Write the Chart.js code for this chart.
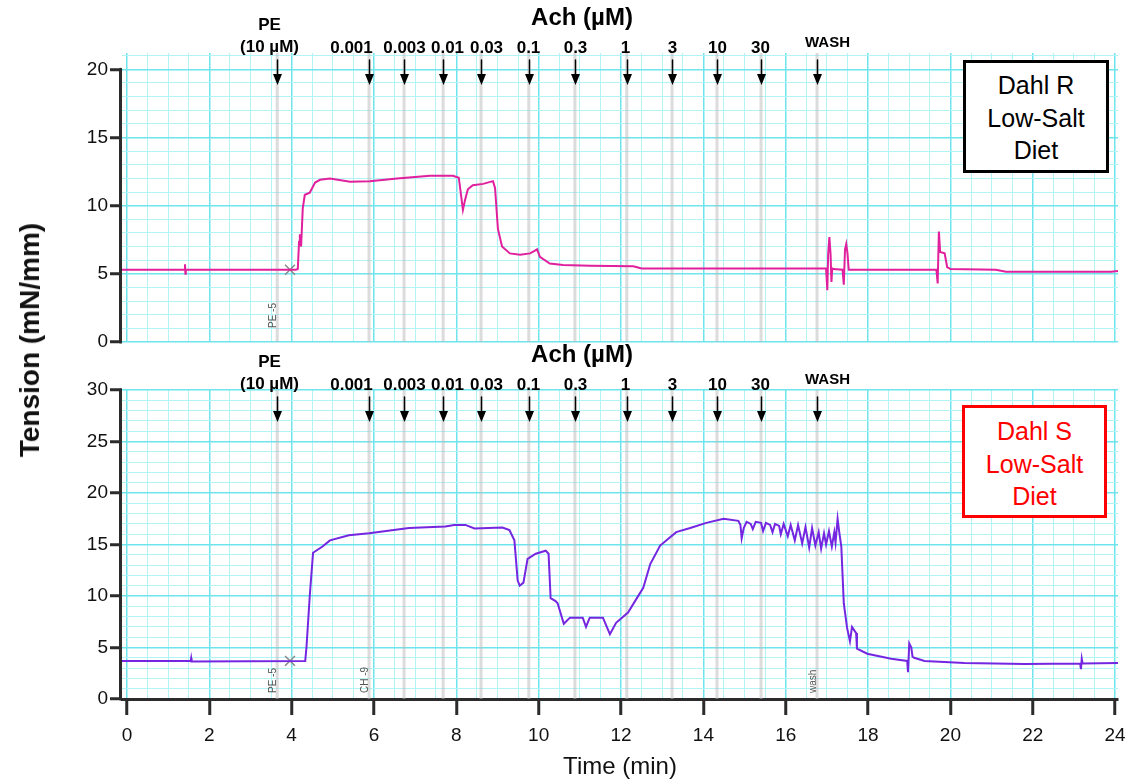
<!DOCTYPE html>
<html>
<head>
<meta charset="utf-8">
<script src="https://cdn.jsdelivr.net/npm/chart.js@4.4.1/dist/chart.umd.min.js"></script>
<style>
  body { margin: 0; background: #fff; }
  #wrap { position: relative; width: 1135px; height: 784px; overflow: hidden;
          font-family: "Liberation Sans", Arial, sans-serif; }
  canvas { position: absolute; left: 0; }
  #cR { top: 0; }
  #cS { top: 320px; }
  .box { position: absolute; box-sizing: border-box; border: 3px solid #000; background: #fff;
         text-align: center; font-size: 25px; line-height: 32.5px; }
  #boxR { left: 963px; top: 60px; width: 146px; height: 113px; padding-top: 6px; }
  #boxS { left: 962px; top: 405px; width: 145px; height: 113px; padding-top: 7px;
          border-color: #f00; color: #f00; }
  #ytitle { position: absolute; left: 30px; top: 340px; transform: translate(-50%, -50%) rotate(-90deg);
            white-space: nowrap; font-weight: bold; font-size: 28px; color: #111; }
</style>
</head>
<body>
<div id="wrap">
  <canvas id="cR" width="1135" height="362"></canvas>
  <canvas id="cS" width="1135" height="464"></canvas>
  <div class="box" id="boxR">Dahl R<br>Low-Salt<br>Diet</div>
  <div class="box" id="boxS">Dahl S<br>Low-Salt<br>Diet</div>
  <div id="ytitle">Tension (mN/mm)</div>
</div>
<script>
// drug additions (min) and their labels
const eventTimes = [3.65, 5.88, 6.73, 7.68, 8.60, 9.76, 10.88, 12.14, 13.24, 14.33, 15.40, 16.76];
const eventLabels = ["PE\n(10 µM)", "0.001", "0.003", "0.01", "0.03", "0.1", "0.3", "1", "3", "10", "30", "WASH"];
const commentR = ["PE -5", "", "", "", "", "", "", "", "", "", "", ""];
const commentS = ["PE -5", "CH -9", "", "", "", "", "", "", "", "", "", "wash"];

// Dahl R trace (top)
const timeR = [-0.12, 1.40, 1.41, 1.42, 1.43, 4.10, 4.15, 4.18, 4.20, 4.23, 4.27, 4.32, 4.44, 4.57, 4.69, 4.93,
  5.42, 5.90, 6.56, 7.36, 7.92, 8.06, 8.16, 8.21, 8.28, 8.40, 8.65, 8.89, 8.94, 9.01, 9.11, 9.30, 9.55, 9.79,
  9.91, 9.96, 10.03, 10.27, 10.59, 11.25, 12.30, 12.50, 16.98, 17.01, 17.03, 17.06, 17.09, 17.11, 17.13, 17.16,
  17.38, 17.41, 17.44, 17.47, 17.50, 17.53, 19.66, 19.69, 19.72, 19.75, 19.86, 19.92, 20.00, 21.10, 21.35, 23.90, 24.07];
const tensionR = [5.3, 5.3, 5.7, 5.0, 5.3, 5.3, 5.35, 7.35, 7.9, 7.0, 9.8, 10.8, 10.95, 11.7, 11.9, 12.0,
  11.75, 11.8, 12.0, 12.2, 12.2, 12.05, 9.7, 10.4, 11.2, 11.5, 11.6, 11.8, 11.3, 8.3, 7.0, 6.5, 6.4, 6.5,
  6.7, 6.8, 6.25, 5.75, 5.65, 5.6, 5.55, 5.4, 5.4, 3.8, 6.4, 7.7, 6.4, 4.4, 5.4, 5.35,
  5.3, 4.2, 6.8, 7.2, 6.5, 5.3, 5.3, 4.3, 8.1, 6.6, 6.5, 5.5, 5.35, 5.3, 5.15, 5.15, 5.2];

// Dahl S trace (bottom)
const timeS = [-0.12, 1.55, 1.56, 1.57, 4.33, 4.36, 4.44, 4.52, 4.75, 4.93,
  5.39, 5.88, 6.85, 7.73, 7.95, 8.22, 8.44, 9.12, 9.29, 9.41,
  9.49, 9.54, 9.63, 9.73, 9.93, 10.17, 10.24, 10.29, 10.41, 10.46,
  10.61, 10.76, 11.07, 11.15, 11.24, 11.56, 11.73, 11.88, 12.17, 12.34,
  12.54, 12.71, 12.95, 13.34, 13.68, 14.07, 14.49, 14.85, 14.90, 14.93,
  14.98, 15.05, 15.15, 15.20, 15.27, 15.40, 15.45, 15.52, 15.62, 15.68,
  15.74, 15.84, 15.88, 15.95, 16.05, 16.12, 16.22, 16.30, 16.40, 16.48,
  16.57, 16.64, 16.72, 16.80, 16.86, 16.93, 16.98, 17.05, 17.12, 17.18,
  17.21, 17.26, 17.30, 17.35, 17.41, 17.49, 17.56, 17.61, 17.71, 17.73,
  17.98, 18.56, 18.95, 18.97, 19.00, 19.05, 19.08, 19.12, 19.37, 20.34,
  21.80, 23.15, 23.17, 23.19, 23.21, 24.07];
const tensionS = [3.7, 3.7, 3.95, 3.65, 3.7, 5.0, 10.0, 14.2, 14.8, 15.4,
  15.9, 16.1, 16.6, 16.75, 16.9, 16.9, 16.55, 16.65, 16.4, 15.4,
  11.5, 11.0, 11.3, 13.6, 14.1, 14.4, 14.1, 9.8, 9.5, 9.3,
  7.3, 7.9, 7.9, 7.0, 7.9, 7.9, 6.3, 7.4, 8.4, 9.5,
  10.8, 13.1, 14.9, 16.2, 16.6, 17.1, 17.5, 17.3, 16.9, 15.6,
  16.6, 17.2, 17.0, 16.5, 17.2, 17.1, 16.3, 17.1, 16.9, 16.2,
  17.0, 16.8, 16.0, 17.0, 15.8, 16.9, 15.4, 16.9, 15.1, 16.7,
  14.7, 16.6, 14.9, 16.2, 14.6, 16.1, 15.0, 16.3, 14.8, 16.2,
  15.2, 17.5, 16.2, 14.8, 9.3, 6.9, 5.6, 7.0, 6.4, 4.9,
  4.4, 3.9, 3.7, 2.6, 5.4, 5.0, 4.1, 4.0, 3.7, 3.5,
  3.4, 3.45, 2.9, 3.9, 3.45, 3.5];

// "x" comment markers
const markTime = [3.96];
const markR = [5.3];
const markS = [3.7];

const FONT = '"Liberation Sans", Arial, sans-serif';
Chart.defaults.font.family = FONT;
const MINOR = "#b2f3f5";
const MAJOR = "#6fe4ec";
const AXIS = "#2b2b2b";
const labelShift = [-8, -18, 0, 4, 5, -1, 0, -2, 0, 0, -1, 10];

function decor(comments, topTick, commentGap) {
  return {
    id: "decor",
    beforeDatasetsDraw(chart) {
      const { ctx, chartArea: a, scales: { x } } = chart;
      ctx.save();
      ctx.strokeStyle = "rgba(185,185,185,0.5)";
      ctx.lineWidth = 3;
      eventTimes.forEach(t => {
        const px = x.getPixelForValue(t);
        ctx.beginPath();
        ctx.moveTo(px, a.top);
        ctx.lineTo(px, a.bottom);
        ctx.stroke();
      });
      // LabChart comment tags
      ctx.fillStyle = "#555";
      ctx.font = "10px " + FONT;
      comments.forEach((c, i) => {
        if (!c) return;
        const px = x.getPixelForValue(eventTimes[i]) - 5;
        ctx.save();
        ctx.translate(px + 4, a.bottom - commentGap);
        ctx.rotate(-Math.PI / 2);
        ctx.fillText(c, 0, 0);
        ctx.restore();
      });
      ctx.restore();
    },
    afterDraw(chart) {
      const { ctx, chartArea: a, scales: { x, y } } = chart;
      ctx.save();
      // y axis bracket
      ctx.strokeStyle = AXIS;
      ctx.lineWidth = 3;
      ctx.lineCap = "round";
      ctx.beginPath();
      ctx.moveTo(a.left - 1.5, y.getPixelForValue(topTick));
      ctx.lineTo(a.left - 1.5, y.getPixelForValue(0));
      ctx.stroke();
      // arrows + labels
      ctx.fillStyle = "#000";
      ctx.strokeStyle = "#000";
      ctx.lineWidth = 1.5;
      ctx.textAlign = "center";
      ctx.textBaseline = "middle";
      eventTimes.forEach((t, i) => {
        const px = Math.round(x.getPixelForValue(t)) + 0.5;
        ctx.beginPath();
        ctx.moveTo(px, a.top + 7);
        ctx.lineTo(px, a.top + 24);
        ctx.stroke();
        ctx.beginPath();
        ctx.moveTo(px - 4.5, a.top + 21);
        ctx.lineTo(px + 4.5, a.top + 21);
        ctx.lineTo(px, a.top + 32);
        ctx.closePath();
        ctx.fill();
        const lines = eventLabels[i].split("\n");
        const lx = px + labelShift[i];
        if (lines.length > 1) {
          ctx.font = "bold 17px " + FONT;
          ctx.fillText(lines[0], lx, a.top - 28);
          ctx.fillText(lines[1], lx, a.top - 6);
        } else if (lines[0] === "WASH") {
          ctx.font = "bold 15px " + FONT;
          ctx.fillText(lines[0], lx, a.top - 10);
        } else {
          ctx.font = "bold 17px " + FONT;
          ctx.fillText(lines[0], lx, a.top - 5);
        }
      });
      ctx.font = "bold 24px " + FONT;
      ctx.fillText("Ach (µM)", 582, a.top - 35);
      ctx.restore();
    }
  };
}

function pts(xs, ys) {
  return xs.map((t, i) => ({ x: t, y: ys[i] }));
}

function makeChart(id, xs, ys, marks, color, yMax, topTick, bottomPanel, comments) {
  const pad = bottomPanel ? { left: 0, right: 17, top: 70, bottom: 0 }
                          : { left: 0, right: 17, top: 53, bottom: 20 };
  return new Chart(document.getElementById(id), {
    type: "line",
    data: {
      datasets: [
        { data: pts(xs, ys), borderColor: color, borderWidth: 2, pointRadius: 0, tension: 0 },
        { data: pts(markTime, marks), showLine: false, pointStyle: "crossRot", pointRadius: 7,
          borderColor: "#888", borderWidth: 1.5 }
      ]
    },
    options: {
      responsive: false,
      animation: false,
      events: [],
      layout: { padding: pad },
      plugins: { legend: { display: false }, tooltip: { enabled: false } },
      scales: {
        x: {
          type: "linear", min: -0.12, max: 24.07,
          border: { display: bottomPanel, color: AXIS, width: 3 },
          grid: {
            color: c => (c.tick && c.tick.value % 2 === 0 ? MAJOR : MINOR),
            lineWidth: c => (c.tick && c.tick.value % 2 === 0 ? 1.5 : 1),
            drawTicks: bottomPanel, tickLength: 16, tickWidth: 3,
            tickColor: c => (c.tick && c.tick.value % 2 === 0 ? AXIS : "rgba(0,0,0,0)")
          },
          ticks: {
            display: bottomPanel, stepSize: 0.5, includeBounds: false, autoSkip: false, maxRotation: 0,
            padding: 9, color: "#111", font: { size: 19 },
            callback: v => (v % 2 === 0 ? v : "")
          },
          title: { display: bottomPanel, text: "Time (min)", color: "#111", font: { size: 24 },
                   padding: { top: 0, bottom: 2 } },
          afterFit: s => { if (bottomPanel) s.height = 85; }
        },
        y: {
          min: 0, max: yMax,
          border: { display: false },
          grid: {
            color: c => (c.tick && c.tick.value % 5 === 0 ? MAJOR : MINOR),
            lineWidth: c => (c.tick && c.tick.value % 5 === 0 ? 1.5 : 1),
            tickLength: 12, tickWidth: 3,
            tickColor: c => (c.tick && c.tick.value % 5 === 0 && c.tick.value <= topTick ? AXIS : "rgba(0,0,0,0)")
          },
          ticks: {
            stepSize: 1, includeBounds: false, autoSkip: false, padding: 2, color: "#111",
            font: { size: 19 },
            callback: v => (v % 5 === 0 && v <= topTick ? v : "")
          },
          afterFit: s => { s.width = 122; }
        }
      }
    },
    plugins: [decor(comments, topTick, bottomPanel ? 6 : 14)]
  });
}

makeChart("cR", timeR, tensionR, markR, "#e0209c", 21.2, 20, false, commentR);
makeChart("cS", timeS, tensionS, markS, "#7426e0", 30, 30, true, commentS);
</script>
</body>
</html>
